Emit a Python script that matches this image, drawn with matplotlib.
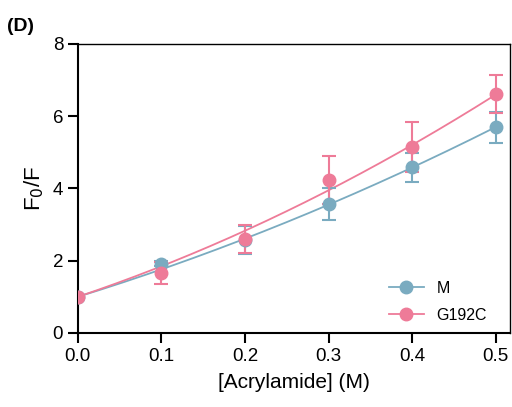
import numpy as np
import matplotlib
matplotlib.use("Agg")
import matplotlib.pyplot as plt

plt.rcParams['font.family'] = ['Liberation Sans', 'DejaVu Sans']

# acrylamide quenching data
conc = [0.0, 0.1, 0.2, 0.3, 0.4, 0.5]
m_vals = [1.0, 1.92, 2.57, 3.57, 4.58, 5.69]
m_err = [0.0, 0.08, 0.39, 0.45, 0.39, 0.42]
g_vals = [1.0, 1.65, 2.60, 4.23, 5.15, 6.62]
g_err = [0.0, 0.30, 0.40, 0.67, 0.70, 0.52]

# fitted curves, F0/F = 1 + a[Q] + b[Q]^2 (coefficients)
m_fit = [7.15, 4.5]
g_fit = [7.78, 6.83]

c_m = '#7aabc0'
c_g = '#ee7b98'

fig = plt.figure(figsize=(5.12, 4.07), dpi=100)
ax = fig.add_axes([0.152, 0.182, 0.844, 0.71])

xs = np.linspace(0, 0.5, 200)
for vals, err, fit, col, name in [(m_vals, m_err, m_fit, c_m, 'M'),
                                  (g_vals, g_err, g_fit, c_g, 'G192C')]:
    a, b = fit
    ax.plot(xs, 1 + a * xs + b * xs ** 2, color=col, lw=1.3, zorder=2)
    ax.errorbar(conc, vals, yerr=err, fmt='none', ecolor=col, elinewidth=1.5,
                capsize=5, capthick=1.5, zorder=3)
    ax.plot(conc, vals, 'o', color=col, ms=9, zorder=4)
    ax.plot([], [], '-o', color=col, ms=9, lw=1.3, label=name)

ax.set_xlim(0, 0.517)
ax.set_ylim(0, 8)
ax.set_xticks([0.0, 0.1, 0.2, 0.3, 0.4, 0.5])
ax.set_xticklabels(['0.0', '0.1', '0.2', '0.3', '0.4', '0.5'])
ax.set_yticks([0, 2, 4, 6, 8])
ax.tick_params(direction='out', length=7, width=1.5, labelsize=13.5)
for s in ax.spines.values():
    s.set_linewidth(1.5)
for s in ['top', 'right']:
    ax.spines[s].set_linewidth(1.0)

ax.set_xlabel('[Acrylamide] (M)', fontsize=15, labelpad=6)
ax.set_ylabel('F$_0$/F', fontsize=16, labelpad=5)

ax.legend(loc='lower right', frameon=False, fontsize=11.5, handlelength=2.2,
          bbox_to_anchor=(0.98, -0.015), labelspacing=0.75)

fig.text(0.014, 0.925, '(D)', fontsize=14, fontweight='bold')

fig.savefig('out.png', dpi=100)
